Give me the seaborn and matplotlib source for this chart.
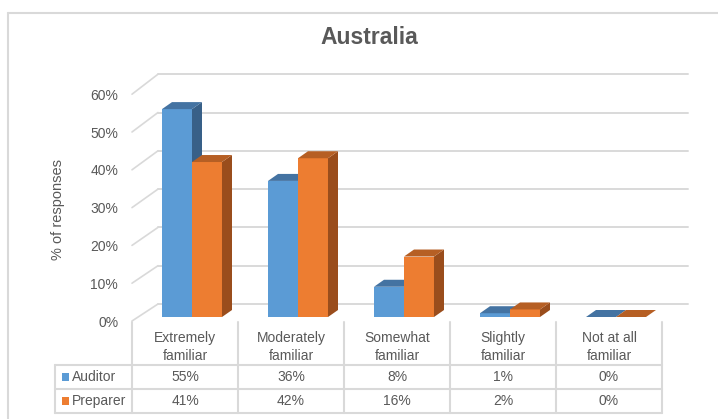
import matplotlib
matplotlib.use("Agg")
import matplotlib.pyplot as plt
import matplotlib.transforms as mtransforms
from matplotlib.lines import Line2D
from matplotlib.patches import Polygon, Rectangle
import pandas as pd
import seaborn as sns

# ---- data -------------------------------------------------------------
categories = ["Extremely\nfamiliar", "Moderately\nfamiliar", "Somewhat\nfamiliar",
              "Slightly\nfamiliar", "Not at all\nfamiliar"]
series = ["Auditor", "Preparer"]
auditor = [55, 36, 8, 1, 0]
preparer = [41, 42, 16, 2, 0]
y_ticks = [0, 10, 20, 30, 40, 50, 60]
title = "Australia"
y_label = "% of responses"

# ---- style ------------------------------------------------------------
front_colors = ["#5b9bd5", "#ed7d31"]
top_colors = ["#4473a2", "#b65f24"]
side_colors = ["#386088", "#9a4d1c"]
grid_color = "#d9d9d9"
text_color = "#595959"
body_size = 10

sns.set_theme(style="white")
plt.rcParams["font.family"] = ["Liberation Sans Narrow", "Liberation Sans", "DejaVu Sans"]

W, H = 718, 419
fig = plt.figure(figsize=(W / 100, H / 100), dpi=100)
fig.patch.set_facecolor("white")


def fx(x):
    return x / W


def fy(y):
    return 1 - y / H


df = pd.DataFrame({
    "category": categories * 2,
    "series": [series[0]] * len(categories) + [series[1]] * len(categories),
    "value": auditor + preparer,
})

# ---- bar axes (front faces) -------------------------------------------
scale = 3.78  # pixels per percentage point
ax = fig.add_axes([fx(139), fy(317), 530 / W, 60 * scale / H])
ax.patch.set_visible(False)
sns.barplot(data=df, x="category", y="value", hue="series", order=categories,
            hue_order=series, palette=front_colors, width=0.566, gap=0,
            saturation=1, linewidth=0, edgecolor="none", legend=False, ax=ax)
ax.set_xlim(-0.5, 4.5)
ax.set_ylim(0, 60)
for s in ax.spines.values():
    s.set_visible(False)
ax.set_xticks([])
ax.set_xlabel("")
ax.set_ylabel("")
ax.set_yticks(y_ticks)
ax.set_yticklabels([f"{t}%" for t in y_ticks], color=text_color, fontsize=body_size)
ax.tick_params(axis="y", length=0, pad=15)
shift = mtransforms.ScaledTranslation(0, -4 / 100, fig.dpi_scale_trans)
for lab in ax.get_yticklabels():
    lab.set_transform(lab.get_transform() + shift)

to_fig = fig.transFigure.inverted()


def disp_to_fig(pts):
    return to_fig.transform(pts)


# ---- walls: back gridlines and left-wall diagonals --------------------
back_dy = 13     # bar plane -> back wall (display px, y up)
front_dy = -4    # bar plane -> front edge
x_back_left = fig.transFigure.transform((fx(158), 0))[0]
x_front_left = fig.transFigure.transform((fx(132), 0))[0]
x_back_right = fig.transFigure.transform((fx(688), 0))[0]
for v in y_ticks:
    _, yd = ax.transData.transform((0, v))
    yb = yd + back_dy + 0.05 * v
    yf = yd + front_dy
    p = disp_to_fig([(x_back_left, yb), (x_back_right, yb)])
    ax.add_line(Line2D(p[:, 0], p[:, 1], transform=fig.transFigure, color=grid_color,
                       lw=1.4, zorder=0.5, clip_on=False))
    p = disp_to_fig([(x_front_left, yf), (x_back_left, yb)])
    ax.add_line(Line2D(p[:, 0], p[:, 1], transform=fig.transFigure, color=grid_color,
                       lw=1.2, zorder=0.5, clip_on=False))

# ---- 3D tops and sides of the bars -------------------------------------
depth_dx, depth_dy = 10, 7
n = len(categories)
for i, patch in enumerate(ax.patches):
    s = i // n
    patch.set_zorder(2 + s)
    x0, w, h = patch.get_x(), patch.get_width(), patch.get_height()
    X0, Yb = ax.transData.transform((x0, 0))
    X1, Yt = ax.transData.transform((x0 + w, h))
    top = disp_to_fig([(X0, Yt), (X1, Yt), (X1 + depth_dx, Yt + depth_dy),
                       (X0 + depth_dx, Yt + depth_dy)])
    ax.add_patch(Polygon(top, closed=True, transform=fig.transFigure,
                         facecolor=top_colors[s], edgecolor="none",
                         zorder=2.5 + s, clip_on=False))
    if h > 0:
        side = disp_to_fig([(X1, Yb), (X1, Yt), (X1 + depth_dx, Yt + depth_dy),
                            (X1 + depth_dx, Yb + depth_dy)])
        ax.add_patch(Polygon(side, closed=True, transform=fig.transFigure,
                             facecolor=side_colors[s], edgecolor="none",
                             zorder=2.4 + s, clip_on=False))

# ---- data table ---------------------------------------------------------
tab = fig.add_axes([fx(55), fy(413), (662 - 55) / W, (413 - 322) / H])
tab.axis("off")
col_w = 106.0


def tx(px):
    return -0.5 + (px - 132) / col_w


tab.set_xlim(tx(55), tx(662))
tab.set_ylim(413, 322)
line_kw = dict(color=grid_color, lw=1.5, clip_on=False)
for k in range(n + 1):
    tab.plot([k - 0.5, k - 0.5], [322, 413], **line_kw)
tab.plot([tx(55), tx(55)], [365, 413], **line_kw)
for yl in (365, 389, 413):
    tab.plot([tx(55), tx(662)], [yl, yl], **line_kw)

for i, c in enumerate(categories):
    tab.text(i, 347, c, ha="center", va="center", color=text_color,
             fontsize=body_size, linespacing=1.3)
row_y = [377, 401]
for s, vals in enumerate([auditor, preparer]):
    for i, v in enumerate(vals):
        tab.text(i, row_y[s], f"{v}%", ha="center", va="center",
                 color=text_color, fontsize=body_size)
    tab.add_patch(Rectangle((tx(62), row_y[s] - 4), 7 / col_w, 8,
                            facecolor=front_colors[s], edgecolor="none"))
    tab.text(tx(72), row_y[s], series[s], ha="left", va="center",
             color=text_color, fontsize=body_size)

# ---- titles and frame ---------------------------------------------------
fig.text(fx(369), fy(37), title, ha="center", va="center", fontsize=16.5,
         fontweight="bold", color=text_color)
fig.text(fx(58), fy(210), y_label, rotation=90, ha="center", va="center",
         fontsize=10.5, color=text_color)
fig.add_artist(Line2D([fx(8), fx(8)], [fy(13), 0], color=grid_color, lw=1.5))
fig.add_artist(Line2D([fx(8), 1], [fy(13), fy(13)], color=grid_color, lw=1.5))

fig.savefig("out.png", dpi=100)
